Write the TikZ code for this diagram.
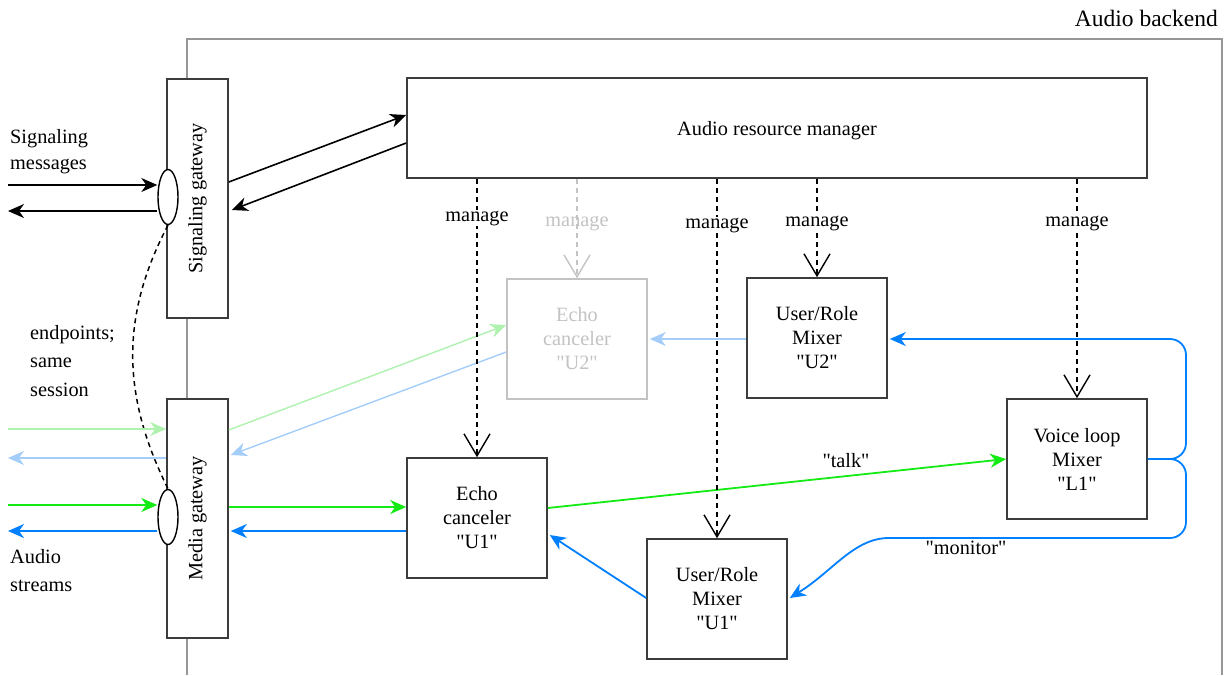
\documentclass[tikz,border=0pt]{standalone}
\usepackage{fontspec}
\setmainfont{Liberation Serif}[Ligatures=TeXOff]
\usetikzlibrary{arrows.meta,shapes.geometric,calc}
\definecolor{flowgreen}{RGB}{20,235,20}
\definecolor{paleflowgreen}{RGB}{175,242,175}
\definecolor{flowblue}{RGB}{0,127,255}
\definecolor{paleflowblue}{RGB}{165,205,250}
\definecolor{boxline}{RGB}{60,60,60}
\definecolor{frameline}{RGB}{150,150,150}
\definecolor{dimmed}{RGB}{195,195,195}
\begin{document}
\begin{tikzpicture}[x=1pt,y=-1pt,
  every node/.style={font=\fontsize{20.3}{24}\selectfont},
  box/.style={draw=boxline,line width=1.6pt,fill=white,minimum width=140pt,
    minimum height=120pt,inner sep=0pt,align=center},
  gatebox/.style={box,minimum width=61pt,minimum height=239pt},
  port/.style={ellipse,draw=black,line width=1.4pt,fill=white,
    minimum width=20pt,minimum height=55pt,inner sep=0pt},
  flow/.style={line width=1.8pt,-{Stealth[length=16pt,width=14pt,inset=5pt]}},
  paleflow/.style={line width=1.4pt,-{Stealth[length=16pt,width=14pt,inset=5pt]}},
  sig/.style={line width=1.6pt,black,-{Stealth[length=16pt,width=14pt,inset=5pt]}},
  managed/.style={line width=1.5pt,dash pattern=on 5pt off 4pt,
    -{Straight Barb[length=22pt,width=26pt,line width=1.4pt]}},
  lbl/.style={fill=white,inner sep=1pt},
  sidetext/.style={align=left,anchor=north west,inner sep=0pt,
    font=\fontsize{20.3}{28.5}\selectfont}]

\useasboundingbox (0,0) rectangle (1228,675);

% backend frame
\draw[frameline,line width=1.4pt] (187,675) -- (187,39) -- (1222,39) -- (1222,675);
\node[anchor=base east,inner sep=0pt,font=\fontsize{23.5}{28}\selectfont] (backend) at (1218,26) {Audio backend};

% components
\node[box,minimum width=740pt,minimum height=100pt] (arm) at (777,128) {};
\node (armtext) at (777,131) {Audio resource manager};
\node[gatebox] (sg) at (197.5,198.5) {};
\node[rotate=90] (sgtext) at (sg.center) {Signaling gateway};
\node[gatebox] (mg) at (197.5,518.5) {};
\node[rotate=90] (mgtext) at (mg.center) {Media gateway};
\node[box,draw=dimmed,text=dimmed] (ec2) at (577,339) {Echo\\canceler\\"U2"};
\node[box] (ur2) at (817,338) {User/Role\\Mixer\\"U2"};
\node[box] (vl) at (1077,459) {Voice loop\\Mixer\\"L1"};
\node[box] (ec1) at (477,518) {Echo\\canceler\\"U1"};
\node[box] (ur1) at (717,599) {User/Role\\Mixer\\"U1"};

\node[port] (sgp) at (168,197) {};
\node[port] (mgp) at (168,517) {};

% outer end points
\coordinate (sigin) at (8,185);
\coordinate (sigout) at (8,211);
\coordinate (pgin) at (8,429);
\coordinate (pbout) at (8,458);
\coordinate (gin) at (8,505);
\coordinate (bout) at (8,531);

% left side texts
\node[sidetext,font=\fontsize{20.3}{26}\selectfont] (sigmsg) at (10,129) {Signaling\\messages};
\node[sidetext] (endp) at (30,325) {endpoints;\\same\\session};
\node[sidetext,font=\fontsize{20.3}{28}\selectfont] (astr) at (10,549) {Audio\\streams};

% signaling
\draw[sig] (sigin) -- (sgp.west |- sigin);
\draw[sig] (sgp.west |- sigout) -- (sigout);
\draw[sig] (sg.east |- 0,182) -- (arm.west |- 0,115);
\draw[sig] (arm.west |- 0,143) -- ($(sg.east |- 0,210)+(3,0)$);
\draw[line width=1.5pt,dash pattern=on 5pt off 4pt] (sgp.south) .. controls (118,320) and (124,400) .. (mgp.north);

% pale streams (second user)
\draw[paleflow,paleflowgreen] (pgin) -- (mg.west |- pgin);
\draw[paleflow,paleflowblue] (mg.west |- pbout) -- (pbout);
\draw[paleflow,paleflowgreen] (mg.east |- 0,430) -- (ec2.west |- 0,325);
\draw[paleflow,paleflowblue] (ec2.west |- 0,352) -- ($(mg.east |- 0,455)+(2,0)$);
\draw[paleflow,paleflowblue] (ur2.west |- 0,339) -- ($(ec2.east |- 0,339)+(2,0)$);

% streams (first user)
\draw[flow,flowgreen] (gin) -- (mgp.west |- gin);
\draw[flow,flowblue] (mgp.west |- bout) -- (bout);
\draw[flow,flowgreen] (mg.east |- 0,507) -- (ec1.west |- 0,507);
\draw[flow,flowblue] (ec1.west |- 0,531) -- ($(mg.east |- 0,531)+(2,0)$);
\draw[flow,flowgreen] (ec1.east |- 0,508) -- (vl.west |- 0,459);
\node (talk) at (846,461) {"talk"};
\draw[flow,flowblue] (ur1.west |- 0,598) -- ($(ec1.east |- 0,535)+(2,0)$);
\draw[flow,flowblue,rounded corners=16pt] (vl.east) -- (1186,459) -- (1186,339) -- ($(ur2.east |- 0,339)+(2,0)$);
\draw[flow,flowblue,rounded corners=16pt] (vl.east) -- (1186,459) -- (1186,538) -- (905,538)
  to[out=180,in=32] ($(ur1.east |- 0,598)+(2,0)$);
\node (monitor) at (966,548) {"monitor"};

% management relations
\draw[managed] (ec1.north |- arm.south) -- (ec1.north);
\node[lbl] (m1) at (477,218) {manage};
\draw[managed,dimmed] (ec2.north |- arm.south) -- (ec2.north);
\node[text=dimmed,inner sep=1pt] (m2) at (577,223) {manage};
\draw[managed] (ur1.north |- arm.south) -- (ur1.north);
\node[lbl] (m3) at (717,225) {manage};
\draw[managed] (ur2.north |- arm.south) -- (ur2.north);
\node[lbl] (m4) at (817,223) {manage};
\draw[managed] (vl.north |- arm.south) -- (vl.north);
\node[lbl] (m5) at (1077,223) {manage};
\end{tikzpicture}
\end{document}
